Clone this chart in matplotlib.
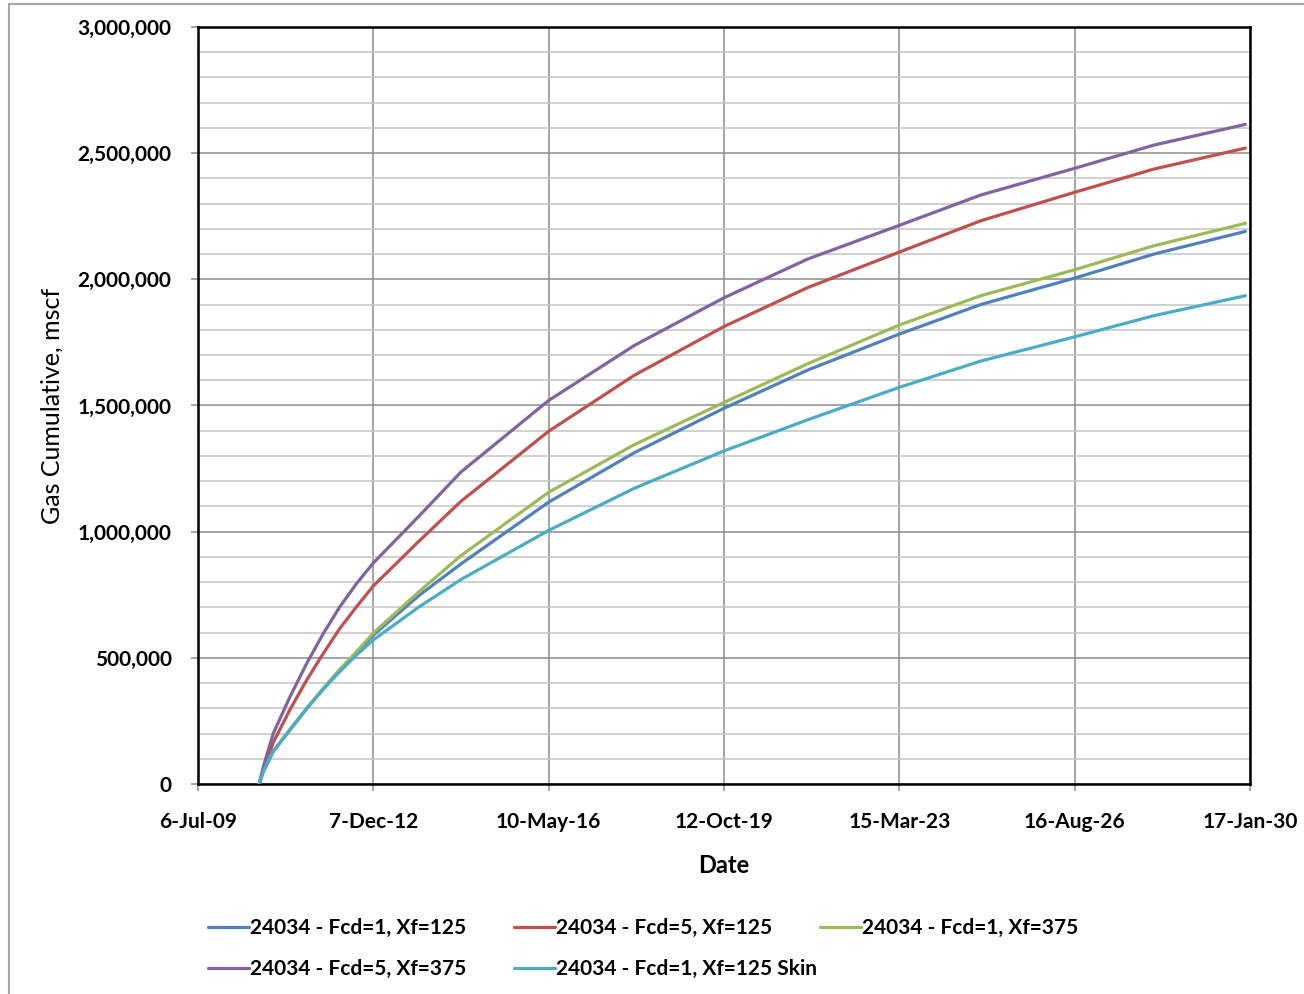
import datetime as dt
import matplotlib
matplotlib.use("Agg")
import matplotlib.pyplot as plt
import matplotlib.dates as mdates
from matplotlib.ticker import MultipleLocator, FuncFormatter
from matplotlib.patches import Rectangle

plt.rcParams['font.family'] = ['Lato', 'DejaVu Sans']

# cumulative gas by date, mscf
dates = ['2010-09-15', '2010-10-15', '2010-12-25', '2011-04-23', '2011-08-20',
         '2011-12-17', '2012-04-13', '2012-08-10', '2012-12-07', '2013-10-24',
         '2014-08-23', '2016-05-10', '2018-01-11', '2019-10-12', '2021-05-29',
         '2023-03-15', '2024-10-15', '2026-08-16', '2028-03-03', '2029-12-15']

fcd1_xf125 = [0, 50000, 130000, 215000, 300000, 378000, 452000, 522000, 590000, 745000,
              872000, 1117000, 1313000, 1489000, 1640000, 1783000, 1900000, 2005000,
              2100000, 2190000]
fcd5_xf125 = [0, 55000, 165000, 295000, 412000, 518000, 617000, 703000, 785000, 960000,
              1120000, 1398000, 1620000, 1813000, 1967000, 2108000, 2232000, 2345000,
              2437000, 2520000]
fcd1_xf375 = [0, 50000, 130000, 215000, 300000, 380000, 455000, 525000, 598000, 760000,
              905000, 1156000, 1345000, 1512000, 1665000, 1819000, 1935000, 2038000,
              2133000, 2222000]
fcd5_xf375 = [0, 69000, 201000, 346000, 478000, 597000, 703000, 795000, 876000, 1059000,
              1236000, 1520000, 1738000, 1927000, 2080000, 2214000, 2334000, 2440000,
              2532000, 2614000]
fcd1_xf125_skin = [0, 50000, 130000, 215000, 298000, 376000, 446000, 512000, 571000,
                   700000, 810000, 1005000, 1172000, 1320000, 1443000, 1572000, 1676000,
                   1772000, 1856000, 1935000]

labels = ['24034 - Fcd=1, Xf=125', '24034 - Fcd=5, Xf=125', '24034 - Fcd=1, Xf=375',
          '24034 - Fcd=5, Xf=375', '24034 - Fcd=1, Xf=125 Skin']
colors = ['#4F81BD', '#C0504D', '#9BBB59', '#8064A2', '#4BACC6']
series = [fcd1_xf125, fcd5_xf125, fcd1_xf375, fcd5_xf375, fcd1_xf125_skin]

x = [dt.datetime.strptime(d, '%Y-%m-%d') for d in dates]

fig = plt.figure(figsize=(13.04, 9.94), dpi=100)
ax = fig.add_axes([198 / 1304, 1 - 784 / 994, 1052 / 1304, 757 / 994])

handles = []
for ys, c, lab in zip(series, colors, labels):
    h, = ax.plot(x, ys, color=c, lw=2.3, label=lab, solid_capstyle='round',
                 solid_joinstyle='round', zorder=3)
    handles.append(h)

# excel-style date axis: 6-Jul-09 .. 17-Jan-30 every 1250 days
start = dt.datetime(2009, 7, 6)
ticks = [start + dt.timedelta(days=1250 * k) for k in range(7)]
ax.set_xlim(ticks[0], ticks[-1])
ax.set_xticks(ticks)
ax.xaxis.set_major_formatter(mdates.DateFormatter('%-d-%b-%y'))

ax.set_ylim(0, 3000000)
ax.yaxis.set_major_locator(MultipleLocator(500000))
ax.yaxis.set_minor_locator(MultipleLocator(100000))
ax.yaxis.set_major_formatter(FuncFormatter(lambda v, p: f'{int(v):,}'))

ax.grid(True, which='major', axis='both', color='#8c8c8c', lw=1.1)
ax.grid(True, which='minor', axis='y', color='#c4c4c4', lw=1.1)
ax.set_axisbelow(True)

for s in ax.spines.values():
    s.set_color('black')
    s.set_linewidth(1.8)

ax.tick_params(which='major', direction='out', length=5, color='#8c8c8c', width=1.1,
               labelsize=15)
ax.tick_params(axis='y', pad=14)
ax.tick_params(axis='x', pad=15)
ax.tick_params(which='minor', length=0)
for t in ax.get_xticklabels() + ax.get_yticklabels():
    t.set_fontweight('bold')

ax.set_xlabel('Date', fontsize=17, fontweight='bold', labelpad=16)
ax.set_ylabel('Gas Cumulative, mscf', fontsize=18, labelpad=10)

# legend laid out in three columns, two rows
col_x = [208, 514, 820]
for col in range(3):
    hs = [handles[i] for i in range(col, 5, 3)]
    fig.legend(hs, [h.get_label() for h in hs], loc='upper left',
               bbox_to_anchor=(col_x[col] / 1304, 1 - 918 / 994), frameon=False,
               prop={'size': 15, 'weight': 'bold'}, handlelength=1.95,
               handletextpad=0.05, labelspacing=1.0, borderaxespad=0, borderpad=0)

fig.add_artist(Rectangle((9 / 1304, -0.1), 1.2, 1.1 - 4 / 994, transform=fig.transFigure,
                         fill=False, edgecolor='#a6a6a6', lw=1.5))

fig.savefig('out.png', dpi=100)
